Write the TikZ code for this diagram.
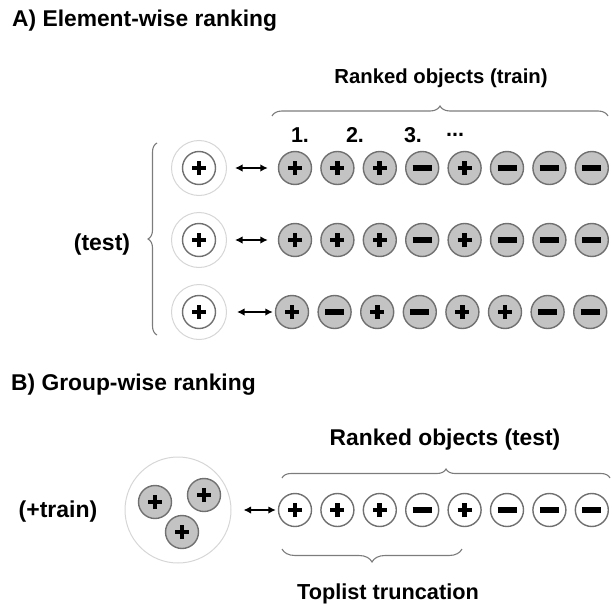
\documentclass[tikz,border=0pt]{standalone}
\usepackage{fontspec}
\setmainfont{Liberation Sans}
\usetikzlibrary{arrows.meta,decorations.pathreplacing}
\definecolor{DiscGray}{HTML}{C3C3C3}
\definecolor{RimGray}{HTML}{707070}
\definecolor{HaloGray}{HTML}{D6D6D6}
\definecolor{BraceGray}{HTML}{7C7C7C}

\tikzset{
  lbl/.style={font=\fontsize{#1}{#1}\selectfont\bfseries, inner sep=0pt},
  lbl/.default=21.5,
  disc/.style={circle, draw=RimGray, line width=1.4pt, minimum size=33pt, inner sep=0pt},
  train/.style={disc, fill=DiscGray},
  testdisc/.style={disc, fill=white},
  halo/.style={circle, draw=HaloGray, line width=1pt, minimum size=#1, inner sep=0pt},
  pl/.style={path picture={\draw[black, line width=4.9pt] (path picture bounding box.center) ++(-7pt,0) -- ++(14pt,0)
      (path picture bounding box.center) ++(0,-7pt) -- ++(0,14pt);}},
  mn/.style={path picture={\draw[black, line width=5.2pt] (path picture bounding box.center) ++(-9.5pt,0) -- ++(19pt,0);}},
  duo/.style={{Latex[length=7.5pt,width=7.5pt]}-{Latex[length=7.5pt,width=7.5pt]}, line width=1.6pt},
  curly/.style={draw=BraceGray, line width=1.1pt, decorate, decoration={brace, amplitude=#1}},
}

\begin{document}
\begin{tikzpicture}[x=1pt,y=-1pt]
  \useasboundingbox (0,0) rectangle (612,607);

  % A) element-wise
  \node[lbl=22.8, anchor=west] (titleA) at (12,21) {A) Element-wise ranking};
  \node[lbl=20.3] (rankTrain) at (441,78) {Ranked objects (train)};
  \draw[curly=10pt] (272,116) -- (608,116);
  \node[lbl] (n1) at (300,135) {1.};
  \node[lbl] (n2) at (355,135) {2.};
  \node[lbl] (n3) at (413,135) {3.};
  \node[lbl] (n4) at (455,135) {...};

  \foreach \s [count=\i] in {pl,pl,pl,mn,pl,mn,mn,mn}
    \node[train,\s] (a1-\i) at ({295+42.4*(\i-1)},168) {};
  \foreach \s [count=\i] in {pl,pl,pl,mn,pl,mn,mn,mn}
    \node[train,\s] (a2-\i) at ({295+42.4*(\i-1)},240) {};
  \foreach \s [count=\i] in {pl,mn,pl,mn,pl,pl,mn,mn}
    \node[train,\s] (a3-\i) at ({292+42.6*(\i-1)},312) {};

  \foreach \r/\y in {1/168,2/240,3/312} {
    \node[halo=55pt] (h\r) at (199,\y) {};
    \node[testdisc,pl] (t\r) at (199,\y) {};
  }
  \draw[duo, shorten <=8pt, shorten >=10pt] (h1) -- (a1-1);
  \draw[duo, shorten <=8pt, shorten >=10pt] (h2) -- (a2-1);
  \draw[duo, shorten <=10pt, shorten >=2pt] (h3) -- (a3-1);

  \draw[curly=9pt] (157,335) -- (157,143);
  \node[lbl=23] (testLbl) at (102,245) {(test)};

  % B) group-wise
  \node[lbl=22.8, anchor=west] (titleB) at (11,385) {B) Group-wise ranking};
  \node[lbl=22.8] (rankTest) at (445,440) {Ranked objects (test)};
  \draw[curly=9pt] (282,478) -- (610,478);
  \node[lbl=23] (plusTrain) at (58,512) {(+train)};

  \node[halo=106pt] (grp) at (178,510) {};
  \node[train,pl] (g1) at (155,502) {};
  \node[train,pl] (g2) at (204,495) {};
  \node[train,pl] (g3) at (182,532) {};

  \foreach \s [count=\i] in {pl,pl,pl,mn,pl,mn,mn,mn}
    \node[testdisc,\s] (b-\i) at ({295+42.4*(\i-1)},510) {};
  \draw[duo, shorten <=12pt, shorten >=2pt] (grp) -- (b-1);

  \draw[curly=13pt] (462,549) -- (282,549);
  \node[lbl=21.7] (toplist) at (388,594) {Toplist truncation};
\end{tikzpicture}
\end{document}
